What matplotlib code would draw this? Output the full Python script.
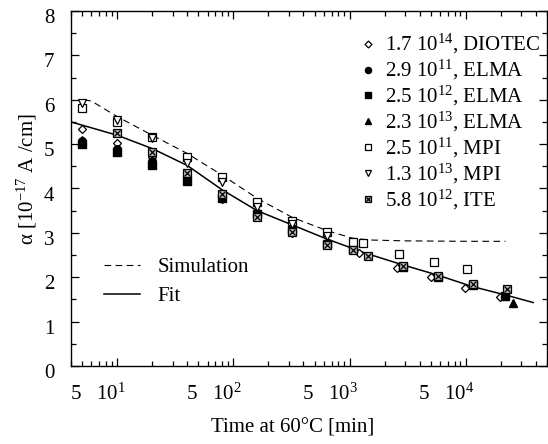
import numpy as np
import matplotlib
matplotlib.use("Agg")
import matplotlib.pyplot as plt
from matplotlib.ticker import LogLocator, FixedLocator, FuncFormatter
from matplotlib.transforms import ScaledTranslation
from matplotlib.legend_handler import HandlerTuple

plt.rcParams['font.family'] = ['Liberation Serif', 'DejaVu Serif']
plt.rcParams['mathtext.fontset'] = 'custom'
plt.rcParams['mathtext.rm'] = 'Liberation Serif'
plt.rcParams['mathtext.it'] = 'Liberation Serif:italic'
plt.rcParams['mathtext.default'] = 'regular'

# ---------------- data ----------------
diotec_t = [5, 10, 20, 40, 80, 160, 320, 640, 1200, 2550, 5010, 9890, 19600]
diotec_a = [5.35, 5.03, 4.70, 4.30, 3.76, 3.38, 3.00, 2.72, 2.55, 2.20, 2.00, 1.75, 1.55]

elma11_t = [5, 10, 20, 40, 80, 160, 320, 640]
elma11_a = [5.07, 4.88, 4.62, 4.22, 3.82, 3.45, 3.08, 2.78]

elma12_t = [5, 10, 20, 40, 80, 160, 320, 640, 1060, 2855, 5710, 11440, 21800]
elma12_a = [5.00, 4.82, 4.52, 4.17, 3.78, 3.42, 3.07, 2.76, 2.64, 2.22, 2.00, 1.82, 1.58]

elma13_t = [5, 10, 20, 40, 80, 160, 320, 640, 25700]
elma13_a = [5.10, 4.85, 4.55, 4.20, 3.80, 3.44, 3.10, 2.78, 1.43]

mpi11_t = [5, 10, 20, 40, 80, 160, 320, 640, 1060, 1300, 2640, 5350, 10200]
mpi11_a = [5.81, 5.50, 5.17, 4.72, 4.25, 3.70, 3.27, 3.03, 2.80, 2.77, 2.52, 2.34, 2.19]

mpi13_t = [5, 10, 20, 40, 80, 160, 320, 640]
mpi13_a = [5.92, 5.54, 5.13, 4.57, 4.15, 3.59, 3.20, 2.93]

ite_t = [10, 20, 40, 80, 160, 320, 640, 1060, 1430, 2855, 5710, 11440, 22800]
ite_a = [5.24, 4.83, 4.36, 3.87, 3.35, 3.03, 2.73, 2.62, 2.48, 2.25, 2.03, 1.85, 1.73]

sim_t = [5.2, 6, 10, 20, 40, 80, 160, 320, 640, 1060, 1470, 3000, 10000, 22000]
sim_a = [6.00, 5.97, 5.62, 5.20, 4.79, 4.30, 3.78, 3.35, 3.05, 2.88, 2.84, 2.82, 2.81, 2.81]

fit_t = [4.0, 10, 20, 40, 80, 160, 320, 640, 1380, 2860, 5700, 11400, 22000, 38000]
fit_a = [5.50, 5.20, 4.90, 4.52, 3.97, 3.50, 3.18, 2.86, 2.54, 2.28, 2.05, 1.79, 1.60, 1.43]

labels = [r"1.7 10$^{14}$, DIOTEC", r"2.9 10$^{11}$, ELMA", r"2.5 10$^{12}$, ELMA",
          r"2.3 10$^{13}$, ELMA", r"2.5 10$^{11}$, MPI", r"1.3 10$^{13}$, MPI",
          r"5.8 10$^{12}$, ITE"]

# ---------------- figure ----------------
fig = plt.figure(figsize=(5.48, 4.44), dpi=100)
ax = fig.add_axes([71/548, 1-366/444, 476/548, 355/444])

lsim, = ax.plot(sim_t, sim_a, color='black', lw=0.8, ls=(0, (6, 4)), zorder=2)
lfit, = ax.plot(fit_t, fit_a, color='black', lw=1.1, zorder=2)

ms = 5.5
h1, = ax.plot(diotec_t, diotec_a, 'D', ms=ms*0.8, mfc='white', mec='black', mew=0.9, ls='none', zorder=3)
h2, = ax.plot(elma11_t, elma11_a, 'o', ms=ms, mfc='black', mec='black', ls='none', zorder=3)
h3, = ax.plot(elma12_t, elma12_a, 's', ms=ms, mfc='black', mec='black', ls='none', zorder=3)
h4, = ax.plot(elma13_t, elma13_a, '^', ms=ms, mfc='black', mec='black', ls='none', zorder=3)
h5, = ax.plot(mpi11_t, mpi11_a, 's', ms=ms*1.1, mfc='white', mec='black', mew=0.9, ls='none', zorder=4)
h6, = ax.plot(mpi13_t, mpi13_a, 'v', ms=ms*1.1, mfc='white', mec='black', mew=0.9, ls='none', zorder=4)
h7a, = ax.plot(ite_t, ite_a, 's', ms=ms*1.1, mfc='#bbbbbb', mec='black', mew=0.9, ls='none', zorder=5)
h7b, = ax.plot(ite_t, ite_a, 'x', ms=ms*0.7, mec='black', mew=0.9, ls='none', zorder=6)

ax.set_xscale('log')
ax.set_xlim(4, 5e4)
ax.set_ylim(0, 8)

ax.xaxis.set_major_locator(LogLocator(base=10, numticks=10))
ax.xaxis.set_minor_locator(LogLocator(base=10, subs=np.arange(2, 10), numticks=20))
ax.xaxis.set_major_formatter(FuncFormatter(lambda v, p: r"$10^{%d}$" % int(round(np.log10(v)))))
def minor_fmt(v, p):
    if v > 3e4:
        return ""
    m = v / 10 ** np.floor(np.log10(v) + 1e-9)
    return "5" if abs(m - 5) < 1e-6 else ""
ax.xaxis.set_minor_formatter(FuncFormatter(minor_fmt))
ax.yaxis.set_major_locator(FixedLocator(np.arange(0, 9)))
ax.yaxis.set_minor_locator(FixedLocator(np.arange(0.5, 8, 1.0)))

ax.tick_params(which='both', direction='in', top=True, right=True, labelsize=15)
ax.tick_params(which='major', length=6, width=0.9)
ax.tick_params(which='minor', length=3.5, width=0.9)
ax.tick_params(axis='x', which='both', pad=24)
ax.tick_params(axis='y', which='both', pad=12)
for s in ax.spines.values():
    s.set_linewidth(1.0)

ax.set_xlabel("Time at 60°C [min]", fontsize=15)
ax.set_ylabel(r"α [10$^{-17}$ A /cm]", fontsize=15)
ax.xaxis.set_label_coords(0.466, -0.148)
ax.yaxis.set_label_coords(-0.068, 0.527)

leg1 = ax.legend([h1, h2, h3, h4, h5, h6, (h7a, h7b)], labels,
                 handler_map={tuple: HandlerTuple(ndivide=1)},
                 loc='upper right', bbox_to_anchor=(1.012, 0.975), frameon=False, fontsize=15,
                 handlelength=0.6, handletextpad=0.5, labelspacing=0.09, markerscale=0.8,
                 borderaxespad=0.2)
ax.add_artist(leg1)
ax.legend([lsim, lfit], ["Simulation", "Fit"], loc='lower left', bbox_to_anchor=(0.03, 0.115),
          frameon=False, fontsize=15, handlelength=1.75, handletextpad=0.8, labelspacing=0.45)

fig.canvas.draw()
offx = ScaledTranslation(-0.065, 0, fig.dpi_scale_trans)
offy = ScaledTranslation(0, -0.05, fig.dpi_scale_trans)
for t in ax.xaxis.get_major_ticks() + ax.xaxis.get_minor_ticks():
    t.label1.set_verticalalignment('baseline')
    t.label1.set_transform(t.label1.get_transform() + offx)
for t in ax.yaxis.get_major_ticks():
    t.label1.set_transform(t.label1.get_transform() + offy)

fig.savefig("out.png", dpi=100)
